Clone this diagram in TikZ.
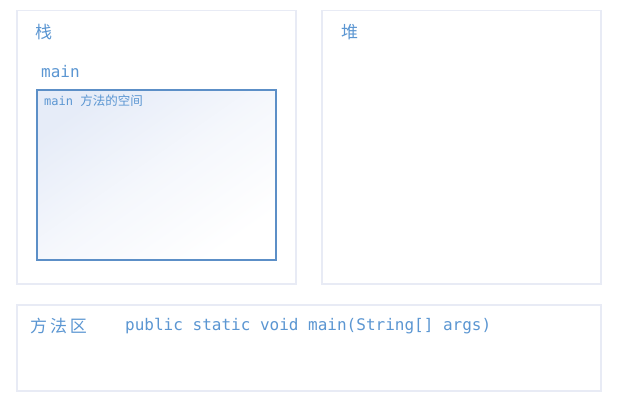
\documentclass[tikz,border=0pt]{standalone}
\usepackage{fontspec}
\setmonofont{DejaVu Sans Mono}
\newfontfamily\cjk{Noto Sans CJK SC}
\definecolor{panelborder}{RGB}{232,235,245}
\definecolor{txtblue}{RGB}{91,150,210}
\definecolor{innerborder}{RGB}{92,143,199}
\definecolor{innerfill}{RGB}{230,236,248}
\begin{document}
\begin{tikzpicture}[x=1pt,y=-1pt,
  panel/.style={draw=panelborder, line width=1.5pt, fill=white},
  inner/.style={draw=innerborder, line width=1.8pt, top color=innerfill, bottom color=white, middle color=white!60!innerfill, shading angle=35},
  title/.style={text=txtblue, font=\cjk\fontsize{17}{19}\selectfont, inner sep=0pt, anchor=west},
  code/.style={text=txtblue, font=\ttfamily\fontsize{16}{18}\selectfont, inner sep=0pt, anchor=west}]
\useasboundingbox (0,0) rectangle (618,403);
\fill[white] (0,0) rectangle (618,403);
\node[panel, minimum width=279pt, minimum height=273pt, anchor=north west, inner sep=0pt] (stack) at (16,10) {};
\node[panel, minimum width=279pt, minimum height=273pt, anchor=north west, inner sep=0pt] (heap) at (321,10) {};
\node[panel, minimum width=584pt, minimum height=86pt, anchor=north west, inner sep=0pt] (method) at (16,304) {};
\node[inner, minimum width=239pt, minimum height=170pt, anchor=north west, inner sep=0pt] (frame) at (36,89) {};
\node[title] (stacklbl) at (35,32) {栈};
\node[title] (heaplbl) at (341,32) {堆};
\node[code] (mainlbl) at (41,72) {main};
\node[text=txtblue, inner sep=0pt, anchor=west] (framelbl) at (44,101) {\ttfamily\fontsize{12}{14}\selectfont main {\cjk\fontsize{12.5}{14}\selectfont 方法的空间}};
\node[title] (methodlbl) at (30,326) {方\,法\,区};
\node[code] (codelbl) at (125,326) {public static void main(String[] args)};
\end{tikzpicture}
\end{document}
